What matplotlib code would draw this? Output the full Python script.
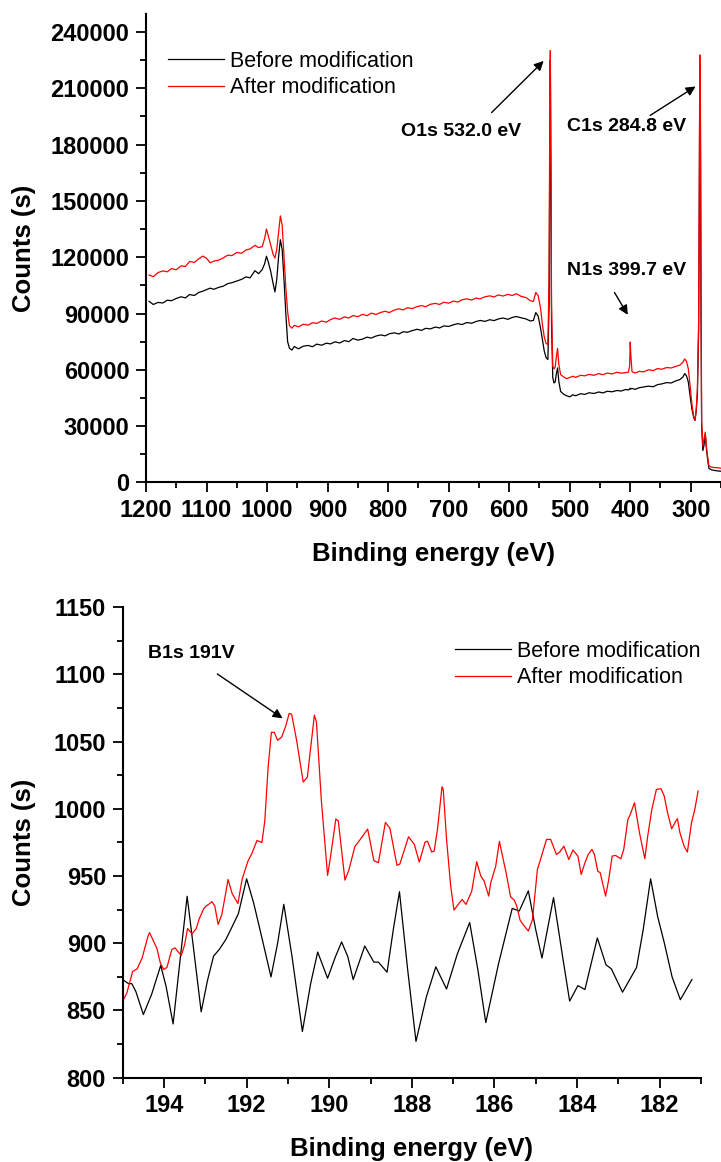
import matplotlib
matplotlib.use("Agg")
import matplotlib.pyplot as plt
from matplotlib.ticker import MultipleLocator

plt.rcParams['font.family'] = ['Liberation Sans', 'DejaVu Sans']

# ---- survey spectrum (top) ----
survey_be = [1195, 1188, 1180, 1172, 1165, 1158, 1150, 1142, 1135, 1128, 1120, 1113, 1106, 1100,
             1094, 1088, 1080, 1072, 1065, 1058, 1050, 1042, 1035, 1028, 1020, 1014, 1008, 1004,
             1001, 998, 994, 990, 987, 984, 981, 978, 975, 972, 969, 966, 963, 959, 955, 948,
             940, 932, 925, 918, 910, 902, 895, 888, 880, 872, 865, 858, 850, 842, 835, 828,
             820, 812, 805, 798, 790, 782, 775, 768, 760, 752, 745, 738, 730, 722, 715, 708,
             700, 692, 685, 678, 670, 662, 655, 648, 640, 632, 625, 618, 610, 602, 595, 588,
             580, 572, 565, 560, 556, 552, 548, 545, 542, 539, 536, 534, 533, 532, 531, 530,
             528, 526, 524, 522, 520, 518, 515, 510, 505, 500, 495, 490, 482, 475, 468, 460,
             452, 445, 438, 430, 422, 415, 408, 403, 401, 400, 399, 397, 392, 385, 378, 370,
             362, 355, 348, 340, 332, 325, 318, 313, 310, 307, 304, 301, 298, 295, 293, 291,
             289, 287, 286, 285, 284, 283, 282, 280, 278, 276, 274, 272, 270, 266, 262, 258,
             254, 250]
survey_before = [96500, 94800, 95900, 95600, 97100, 96800, 98000, 98900, 98300, 100100, 99600, 101200, 101900, 102700,
                 103500, 102900, 103900, 104600, 105900, 106400, 107300, 108200, 109500, 109000, 112800, 111200, 113400, 116500,
                 120500, 117500, 112500, 106000, 101500, 108000, 120000, 129300, 124000, 108000, 90000, 75000, 71500, 70500, 72400, 71200,
                 72600, 73000, 72300, 73700, 73100, 74200, 73800, 74900, 74300, 75600, 75000, 76700, 75800, 76400, 77400, 76900,
                 78000, 78600, 78100, 79200, 79700, 79100, 80300, 80000, 80900, 81600, 81000, 82100, 81800, 82800, 82300, 83400,
                 83100, 84000, 84600, 84100, 85200, 84800, 85700, 86300, 85800, 86700, 86200, 87100, 87600, 86900, 87900, 88400,
                 87700, 87100, 86000, 86300, 90500, 88500, 82000, 76000, 70000, 66500, 65500, 95000, 170000, 225000, 160000, 85000,
                 56000, 53000, 53500, 58000, 61000, 54000, 48500, 47000, 46200, 45600, 46700, 46200, 47300, 46900, 47800, 47400,
                 48200, 47700, 48600, 48300, 49000, 48700, 49500, 49300, 49700, 50200, 49800, 50100, 49600, 50500, 50900, 51300,
                 51000, 52100, 52500, 53200, 53000, 54100, 54800, 56200, 58000, 56800, 53500, 46000, 39000, 34500, 33000, 38000,
                 47000, 80000, 140000, 222000, 190000, 90000, 30000, 17000, 20000, 25800, 17500, 12000, 7500, 6800, 6500, 6300,
                 6100, 6000]
survey_after = [110500, 109600, 111800, 112700, 112200, 113900, 113300, 115400, 115000, 117700, 117200, 119100, 120600, 119400,
                117000, 117900, 118400, 119700, 121100, 120800, 122500, 122100, 123800, 124400, 126300, 125100, 125600, 130000,
                135000, 131500, 126500, 121500, 119500, 124000, 133000, 142000, 137000, 120000, 104000, 91000, 83500, 82200, 83700, 82900,
                84300, 83800, 85100, 84700, 86000, 85400, 86800, 87600, 86900, 88200, 87600, 88900, 88300, 89600, 88800, 90200,
                89500, 90600, 91200, 90500, 91800, 92500, 91900, 93100, 92600, 93700, 94200, 93600, 94900, 95400, 94800, 96000,
                95500, 96600, 96100, 97300, 97800, 97200, 98200, 97800, 98900, 99400, 98800, 99900, 99300, 100200, 99600, 100500,
                99100, 98500, 96800, 96400, 101200, 99500, 92500, 84000, 77500, 74000, 73500, 110000, 190000, 230000, 175000, 95000,
                62000, 60500, 61500, 67000, 71500, 63000, 57500, 56200, 55300, 55900, 56600, 56000, 57100, 56800, 57600, 57100,
                58000, 57400, 58300, 57800, 58700, 58200, 58500, 58800, 62000, 74800, 68000, 59000, 58300, 59200, 58900, 60000,
                59600, 60700, 60300, 61200, 61000, 61800, 62500, 64000, 65800, 64500, 60500, 51500, 41500, 35000, 33200, 38500,
                50000, 85000, 150000, 227700, 200000, 100000, 33000, 19500, 23000, 26800, 19000, 13500, 9000, 8200, 8000, 7900,
                7800, 7600]

# ---- B1s region (bottom) ----
b1s_be_before = [195.0, 194.86, 194.78, 194.68, 194.5, 194.3, 194.08, 193.95, 193.78, 193.62, 193.44, 193.28, 193.1,
                 192.95, 192.8, 192.66, 192.5, 192.38, 192.2, 192.0, 191.83, 191.66, 191.41, 191.25, 191.1, 190.9,
                 190.65, 190.45, 190.28, 190.04, 189.85, 189.7, 189.55, 189.42, 189.14, 188.92, 188.81, 188.6, 188.45,
                 188.3, 188.1, 187.9, 187.65, 187.42, 187.16, 186.9, 186.6, 186.4, 186.21, 185.9, 185.57, 185.4,
                 185.18, 185.0, 184.85, 184.57, 184.35, 184.18, 183.98, 183.81, 183.51, 183.3, 183.17, 182.9, 182.56,
                 182.4, 182.22, 182.05, 181.89, 181.7, 181.5, 181.22]
b1s_before = [873, 870, 870, 864, 847, 862, 883.5, 868, 840, 885, 935, 895, 849,
              872, 890.5, 895.5, 903, 910.5, 922, 948, 930, 908, 875, 900, 929, 890,
              834.4, 870, 893.5, 874, 890, 901, 890, 873, 898, 886, 886, 878.5, 910,
              938.4, 880, 827, 860, 882.5, 866, 892, 915.5, 880, 841, 885, 926, 924,
              939, 910, 889, 934, 890, 857, 868.5, 865.6, 904, 884, 881, 863.6, 882,
              910, 948, 920, 900.5, 875, 858, 873]

b1s_be_after = [195.0, 194.9, 194.76, 194.65, 194.53, 194.39, 194.35, 194.17, 194.09, 194.01, 193.93, 193.81, 193.73,
                193.67, 193.58, 193.5, 193.43, 193.32, 193.22, 193.15, 193.04, 192.98, 192.92, 192.84, 192.77, 192.69,
                192.6, 192.52, 192.45, 192.35, 192.21, 192.11, 191.97, 191.87, 191.75, 191.63, 191.56, 191.48, 191.4,
                191.33, 191.25, 191.15, 191.05, 190.97, 190.91, 190.79, 190.63, 190.53, 190.36, 190.31, 190.19, 190.04,
                189.98, 189.84, 189.78, 189.62, 189.52, 189.38, 189.27, 189.07, 188.92, 188.81, 188.64, 188.53, 188.36,
                188.29, 188.08, 187.94, 187.82, 187.68, 187.62, 187.52, 187.46, 187.38, 187.27, 187.24, 187.16, 187.06,
                186.98, 186.85, 186.78, 186.69, 186.55, 186.43, 186.33, 186.25, 186.14, 186.09, 185.97, 185.88, 185.71,
                185.61, 185.52, 185.46, 185.38, 185.29, 185.18, 185.08, 184.96, 184.88, 184.74, 184.64, 184.5, 184.42,
                184.32, 184.2, 184.1, 183.98, 183.9, 183.81, 183.73, 183.64, 183.58, 183.5, 183.44, 183.31, 183.24,
                183.15, 183.07, 182.94, 182.87, 182.77, 182.72, 182.61, 182.49, 182.36, 182.29, 182.19, 182.08, 181.97,
                181.89, 181.81, 181.71, 181.61, 181.57, 181.51, 181.41, 181.33, 181.23, 181.15, 181.07]
b1s_after = [857, 863, 879, 881, 889, 905, 908, 896, 885.5, 880.5, 882, 895.4, 896.6,
             894, 891, 899, 911, 907, 911, 918, 925.7, 927.7, 929, 931, 927.7, 914,
             921.5, 935, 947.5, 937, 929.6, 947.5, 961, 967, 976.5, 975, 991, 1031, 1057,
             1057, 1051, 1053.5, 1062, 1071, 1070.5, 1051, 1020, 1023.6, 1069.7, 1064.7, 1006, 950.5,
             962, 992.5, 991, 947, 955, 972, 976.4, 985, 961.5, 960, 990, 985.5, 958,
             959, 979.3, 973.6, 960.4, 975.3, 976, 967.9, 968.6, 984.7, 1016.5, 1014.5, 977.3, 942.6,
             924.7, 930.1, 932.6, 928.9, 938.8, 960.7, 950, 946.3, 935.1, 945, 957.4, 975.8, 951.2,
             934.6, 932.1, 927.7, 917.2, 913.3, 909.1, 917.7, 955, 962.9, 977.3, 977.3, 966.1, 967.9,
             972.3, 962.4, 969.4, 964.9, 951.2, 959.9, 966.1, 969.9, 966.1, 953.7, 952.5, 935.1, 946.3,
             964.9, 965.4, 962.9, 969.9, 992.2, 995.2, 1004.6, 982.3, 962.9, 979.8, 999.6, 1014.5, 1015,
             1009.6, 997.1, 985.2, 990.9, 992.7, 982.3, 972.3, 967.9, 989.7, 999.6, 1013.3]

W, H = 721, 1162
fig = plt.figure(figsize=(W / 100, H / 100), dpi=100)

label_font = dict(fontsize=18.5, fontweight='bold')
legend_kw = dict(loc='upper left', bbox_transform=fig.transFigure, frameon=False,
                 borderpad=0, borderaxespad=0, handlelength=2.6, handletextpad=0.3,
                 labelspacing=0.24, fontsize=15.5)


def style_axes(ax):
    for side in ('top', 'right'):
        ax.spines[side].set_visible(False)
    for side in ('left', 'bottom'):
        ax.spines[side].set_linewidth(1.5)
    ax.tick_params(which='major', direction='out', length=7, width=1.3, pad=5)
    ax.tick_params(which='minor', direction='out', length=4, width=1.3)
    for lbl in ax.get_xticklabels() + ax.get_yticklabels():
        lbl.set_fontsize(17)
        lbl.set_fontweight('bold')


# top panel: survey
ax1 = fig.add_axes([146 / W, 1 - 482.5 / H, (W - 146) / W, (482.5 - 14) / H])
ax1.plot(survey_be, survey_before, color='black', lw=0.9, label='Before modification')
ax1.plot(survey_be, survey_after, color='red', lw=0.9, label='After modification')
ax1.set_xlim(1200, 250)
ax1.set_ylim(0, 249500)
ax1.set_xticks([1200, 1100, 1000, 900, 800, 700, 600, 500, 400, 300])
ax1.xaxis.set_minor_locator(MultipleLocator(50))
ax1.set_yticks(range(0, 240001, 30000))
ax1.yaxis.set_minor_locator(MultipleLocator(15000))
style_axes(ax1)
ax1.set_xlabel('Binding energy (eV)', labelpad=14, **label_font)
ax1.set_ylabel('Counts (s)', **label_font)
ax1.yaxis.set_label_coords((36 - 146) / (W - 146), 0.5)
ax1.legend(bbox_to_anchor=(168 / W, 1 - 51 / H), **legend_kw)

ann_kw = dict(fontsize=14, fontweight='bold', ha='center', va='center')
arrow_kw = dict(arrowstyle='-|>', color='black', lw=1.0, mutation_scale=14, shrinkA=0, shrinkB=0)
ax1.text(680, 186700, 'O1s 532.0 eV', **ann_kw)
ax1.annotate('', xy=(543, 224500), xytext=(629, 197000), arrowprops=arrow_kw)
ax1.text(406, 189700, 'C1s 284.8 eV', **ann_kw)
ax1.annotate('', xy=(292, 210900), xytext=(367, 195500), arrowprops=arrow_kw)
ax1.text(406, 113000, 'N1s 399.7 eV', **ann_kw)
ax1.annotate('', xy=(404, 89300), xytext=(426, 101200), arrowprops=arrow_kw)

# bottom panel: B1s region
ax2 = fig.add_axes([122.7 / W, 1 - 1077.7 / H, (701 - 122.7) / W, (1077.7 - 607.3) / H])
ax2.plot(b1s_be_before, b1s_before, color='black', lw=0.9, label='Before modification')
ax2.plot(b1s_be_after, b1s_after, color='red', lw=0.9, label='After modification')
ax2.set_xlim(195, 181)
ax2.set_ylim(800, 1150)
ax2.xaxis.set_major_locator(MultipleLocator(2))
ax2.xaxis.set_minor_locator(MultipleLocator(1))
ax2.yaxis.set_major_locator(MultipleLocator(50))
ax2.yaxis.set_minor_locator(MultipleLocator(25))
style_axes(ax2)
ax2.set_xlabel('Binding energy (eV)', labelpad=14, **label_font)
ax2.set_ylabel('Counts (s)', **label_font)
ax2.yaxis.set_label_coords((36 - 122.7) / (701 - 122.7), 0.5)
ax2.legend(bbox_to_anchor=(455 / W, 1 - 641 / H), **legend_kw)
ax2.text(193.35, 1115.3, 'B1s 191V', **ann_kw)
ax2.annotate('', xy=(191.13, 1067.4), xytext=(192.71, 1100.4), arrowprops=arrow_kw)

for lbl in ax1.get_xticklabels() + ax1.get_yticklabels() + ax2.get_xticklabels() + ax2.get_yticklabels():
    lbl.set_fontweight('bold')
    lbl.set_fontsize(17)

fig.savefig('out.png', dpi=100)
